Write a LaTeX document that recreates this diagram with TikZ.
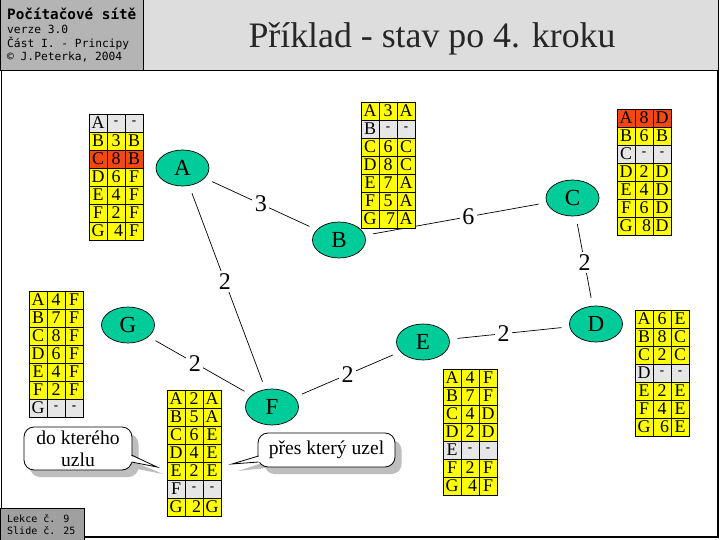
\documentclass[tikz,border=0pt]{standalone}
\usepackage{fontspec}
\usepackage{graphicx}
\setmainfont{Liberation Serif}
\newfontfamily\monofnt{DejaVu Sans Mono}
\newfontfamily\monobold{DejaVu Sans Mono Bold}
\usetikzlibrary{shapes.geometric}
\definecolor{cy}{RGB}{255,255,0}
\definecolor{cg}{RGB}{230,230,230}
\definecolor{cr}{RGB}{245,70,20}
\definecolor{nodegreen}{RGB}{0,204,153}
\definecolor{hdrgray}{RGB}{180,180,180}
\definecolor{titlegray}{RGB}{221,221,221}
\definecolor{footgray}{RGB}{160,160,160}
\definecolor{shadowgray}{RGB}{190,190,190}
\newcommand\dsh{{\fontsize{13}{13}\selectfont\bfseries -}}
\tikzset{
  cell/.style={draw=black, line width=0.9pt, minimum width=18pt, minimum height=18pt, inner sep=0pt, font=\fontsize{17.9}{18}\selectfont},
  router/.style={ellipse, draw=black, line width=0.7pt, fill=nodegreen, minimum width=53pt, minimum height=36pt, inner sep=0pt, font=\fontsize{23}{23}\selectfont},
  link/.style={line width=0.7pt, shorten >=8pt, shorten <=8pt},
  lbl/.style={fill=white, inner sep=2.5pt, font=\fontsize{24}{24}\selectfont},
  bubble/.style={draw=black, line width=0.8pt, fill=white, rounded corners=10pt},
  bubbleshadow/.style={fill=shadowgray, rounded corners=10pt},
  btext/.style={font=\fontsize{19.6}{22}\selectfont, align=center, inner sep=0pt},
  hdr/.style={anchor=west, inner sep=0pt, font=\monofnt\fontsize{11.3}{12}\selectfont}
}
\newcommand\rtab[3]{%
  \begin{scope}[shift={(#2)}]
  \foreach \ra/\rb/\rc/\rf [count=\i from 0] in {#3} {
    \node[cell, fill=\rf] (#1-\i-a) at (9,{\i*18+9}) {\ra};
    \node[cell, fill=\rf] (#1-\i-b) at (27,{\i*18+9}) {\rb};
    \node[cell, fill=\rf] (#1-\i-c) at (45,{\i*18+9}) {\rc};
  }
  \end{scope}}
\begin{document}
\begin{tikzpicture}[x=1pt,y=-1pt]
\useasboundingbox (0,0) rectangle (720,540);
% frame
\fill[white] (0,0) rectangle (720,540);
\draw[line width=1pt] (1,71) rectangle (718,537);
\draw[line width=2.5pt] (0,537) -- (719,537);
\draw[line width=1.5pt] (718,71) -- (718,537);
% header
\draw[fill=hdrgray, line width=1pt] (0.5,0) rectangle (143,71);
\draw[fill=titlegray, line width=1pt] (143,0) rectangle (718,71);
\node[hdr, font=\monobold\fontsize{14.3}{15}\selectfont] (h1) at (7,13.5) {Počítačové sítě};
\node[hdr] (h2) at (7,29) {\resizebox{61pt}{!}{verze 3.0}};
\node[hdr] (h3) at (7,43) {\resizebox{122pt}{!}{Část I. - Principy}};
\node[hdr] (h4) at (7,57) {\resizebox{115pt}{!}{© J.Peterka, 2004}};
\node[font=\fontsize{35.8}{38}\selectfont, text=black!85, inner sep=0pt] (title) at (432,39) {Příklad - stav po 4. kroku};
% footer
\draw[fill=footgray, line width=1pt] (0,508) rectangle (84,540);
\node[hdr, font=\monofnt\fontsize{10}{11}\selectfont] (f1) at (7,518.5) {Lekce č. 9};
\node[hdr, font=\monofnt\fontsize{10}{11}\selectfont] (f2) at (7,530.5) {Slide č. 25};
% routers
\node[router] (A) at (182.5,168) {A};
\node[router] (B) at (339,240) {B};
\node[router] (C) at (572.5,198) {C};
\node[router] (D) at (596,324) {D};
\node[router] (E) at (423,342) {E};
\node[router] (F) at (272,407) {F};
\node[router] (G) at (128,325) {G};
% links
\draw[link] (A) -- node[lbl] (l1) {3} (B);
\draw[link] (B) -- node[lbl, pos=0.57] (l2) {6} (C);
\draw[link] (C) -- node[lbl, pos=0.52] (l3) {2} (D);
\draw[link] (A) -- node[lbl, pos=0.47] (l4) {2} (F);
\draw[link] (G) -- node[lbl, pos=0.45] (l5) {2} (F);
\draw[link] (F) -- node[lbl, pos=0.5] (l6) {2} (E);
\draw[link] (E) -- node[lbl, pos=0.45] (l7) {2} (D);
% tables
\rtab{tA}{89,114}{A/\dsh/\dsh/cg, B/3/B/cy, C/8/B/cr, D/6/F/cy, E/4/F/cy, F/2/F/cy, G/\kern5pt 4/F/cy}
\rtab{tB}{361,102}{A/3/A/cy, B/\dsh/\dsh/cg, C/6/C/cy, D/8/C/cy, E/7/A/cy, F/5/A/cy, G/\kern5pt 7/A/cy}
\rtab{tC}{617,109}{A/8/D/cr, B/6/B/cy, C/\dsh/\dsh/cg, D/2/D/cy, E/4/D/cy, F/6/D/cy, G/\kern5pt 8/D/cy}
\rtab{tG}{29,291}{A/4/F/cy, B/7/F/cy, C/8/F/cy, D/6/F/cy, E/4/F/cy, F/2/F/cy, G/\dsh/\dsh/cg}
\rtab{tD}{635,310}{A/6/E/cy, B/8/C/cy, C/2/C/cy, D/\dsh/\dsh/cg, E/2/E/cy, F/4/E/cy, G/\kern5pt 6/E/cy}
\rtab{tE}{443,369}{A/4/F/cy, B/7/F/cy, C/4/D/cy, D/2/D/cy, E/\dsh/\dsh/cg, F/2/F/cy, G/\kern5pt 4/F/cy}
\rtab{tF}{167,390}{A/2/A/cy, B/5/A/cy, C/6/E/cy, D/4/E/cy, E/2/E/cy, F/\dsh/\dsh/cg, G/\kern5pt 2/G/cy}
% callout 1
\fill[bubbleshadow] (30,434) rectangle (138.5,477);
\fill[shadowgray] (137,463) -- (163,474) -- (137,469) -- cycle;
\draw[bubble] (24,427) rectangle (132,470);
\fill[white] (129,455) -- (157,467) -- (129,462) -- cycle;
\draw[line width=0.8pt] (131.5,455) -- (157,467) -- (131.5,462);
\node[btext] (c1) at (78,448.5) {do kterého\\uzlu};
% callout 2
\fill[bubbleshadow] (264.5,440) rectangle (401.5,474);
\fill[shadowgray] (265,462) -- (238,471) -- (265,468) -- cycle;
\draw[bubble] (258,433) rectangle (395,467);
\fill[white] (261,456) -- (232,464) -- (261,462) -- cycle;
\draw[line width=0.8pt] (258.5,456) -- (232,464) -- (258.5,462);
\node[btext] (c2) at (326.5,450) {přes který uzel};
\end{tikzpicture}
\end{document}
